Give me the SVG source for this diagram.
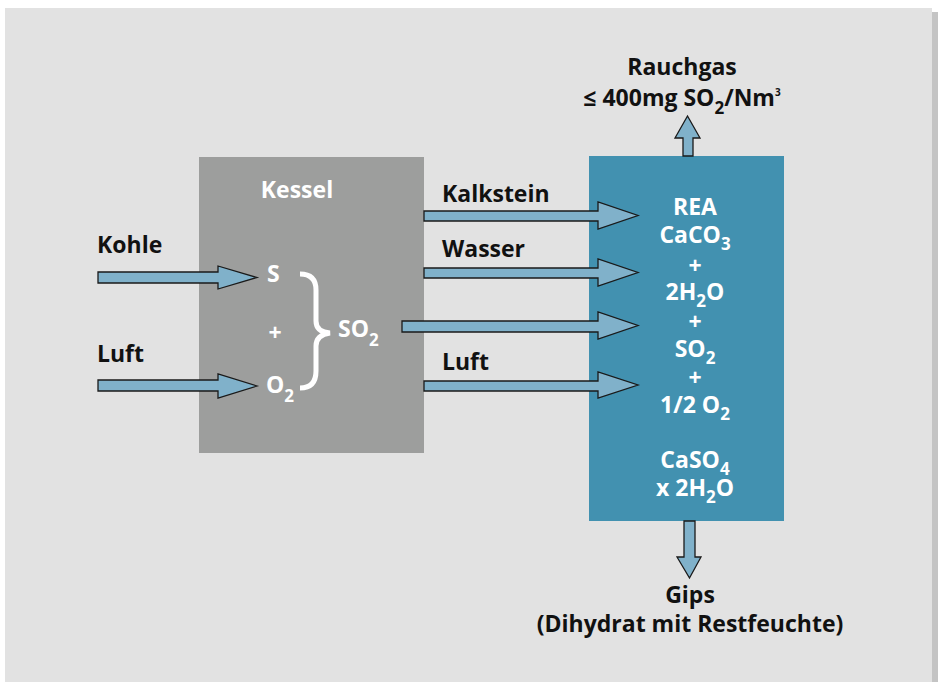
<svg xmlns="http://www.w3.org/2000/svg" width="938" height="682" viewBox="0 0 938 682">
<defs>
<style>
.lbl{font-family:"Open Sans","Noto Sans","Liberation Sans",sans-serif;font-weight:bold;font-size:23px;fill:#111}
.wt{font-family:"Open Sans","Noto Sans","Liberation Sans",sans-serif;font-weight:bold;font-size:23px;fill:#fff}
.sub{font-size:17px}
.arr{fill:#80b1ca;stroke:#1a1a1a;stroke-width:1.3;stroke-linejoin:miter}
</style>
</defs>
<rect x="0" y="0" width="938" height="682" fill="#ffffff"/>
<rect x="932" y="12" width="6" height="670" fill="#c4c4c4"/>
<rect x="5" y="8" width="927" height="674" fill="#e2e2e2"/>

<g id="kessel">
<rect x="199" y="157" width="225" height="296" fill="#9d9e9d"/>
<text class="wt" x="297" y="198" text-anchor="middle">Kessel</text>
<text class="wt" x="267" y="282">S</text>
<text class="wt" x="275" y="341" text-anchor="middle">+</text>
<text class="wt" x="266" y="393">O<tspan class="sub" dy="9">2</tspan></text>
<path d="M300,274 Q316,274 316,290 L316,321 Q316,332 330,333 Q316,335 316,346 L316,371 Q316,388 300,388" fill="none" stroke="#fff" stroke-width="5"/>
<text class="wt" x="338" y="337">SO<tspan class="sub" dy="9">2</tspan></text>
</g>

<g id="rea">
<rect x="589" y="156" width="195" height="365" fill="#4291b0"/>
<g class="wt" text-anchor="middle">
<text x="695" y="215">REA</text>
<text x="695" y="243">CaCO<tspan class="sub" dy="7">3</tspan></text>
<text x="695" y="274">+</text>
<text x="695" y="300">2H<tspan class="sub" dy="7">2</tspan><tspan dy="-7">O</tspan></text>
<text x="695" y="330">+</text>
<text x="695" y="357">SO<tspan class="sub" dy="7">2</tspan></text>
<text x="695" y="386">+</text>
<text x="695" y="413">1/2 O<tspan class="sub" dy="7">2</tspan></text>
<text x="695" y="468">CaSO<tspan class="sub" dy="7">4</tspan></text>
<text x="695" y="496">x 2H<tspan class="sub" dy="7">2</tspan><tspan dy="-7">O</tspan></text>
</g>
</g>

<g id="labels">
<text class="lbl" x="97" y="253">Kohle</text>
<text class="lbl" x="97" y="362">Luft</text>
<text class="lbl" x="442" y="202">Kalkstein</text>
<text class="lbl" x="442" y="257">Wasser</text>
<text class="lbl" x="442" y="370">Luft</text>
<text class="lbl" x="682" y="75" text-anchor="middle">Rauchgas</text>
<text class="lbl" x="682" y="106" text-anchor="middle">≤ 400mg SO<tspan class="sub" dy="8">2</tspan><tspan dy="-8">/Nm</tspan><tspan font-size="10" dy="-10">3</tspan></text>
<text class="lbl" x="690" y="603" text-anchor="middle">Gips</text>
<text class="lbl" x="690" y="632" text-anchor="middle">(Dihydrat mit Restfeuchte)</text>
</g>

<g id="connectors">
<polygon class="arr" points="98,272 218,272 218,266 257,277.5 218,289 218,283 98,283"/>
<polygon class="arr" points="98,380 218,380 218,374 257,386 218,398 218,391 98,391"/>
<polygon class="arr" points="424,211 598,211 598,202 638,215.5 598,229 598,221 424,221"/>
<polygon class="arr" points="424,268 598,268 598,259 638,272.5 598,286 598,278 424,278"/>
<polygon class="arr" points="402,321 598,321 598,312 638,325.5 598,339 598,332 402,332"/>
<polygon class="arr" points="424,381 598,381 598,372 638,385 598,398 598,391 424,391"/>
<polygon class="arr" points="683,156 683,138 675,138 687.5,116 700,138 693,138 693,156"/>
<polygon class="arr" points="684,521 684,557 677,557 689.5,578 701,557 695,557 695,521"/>
</g>
</svg>
